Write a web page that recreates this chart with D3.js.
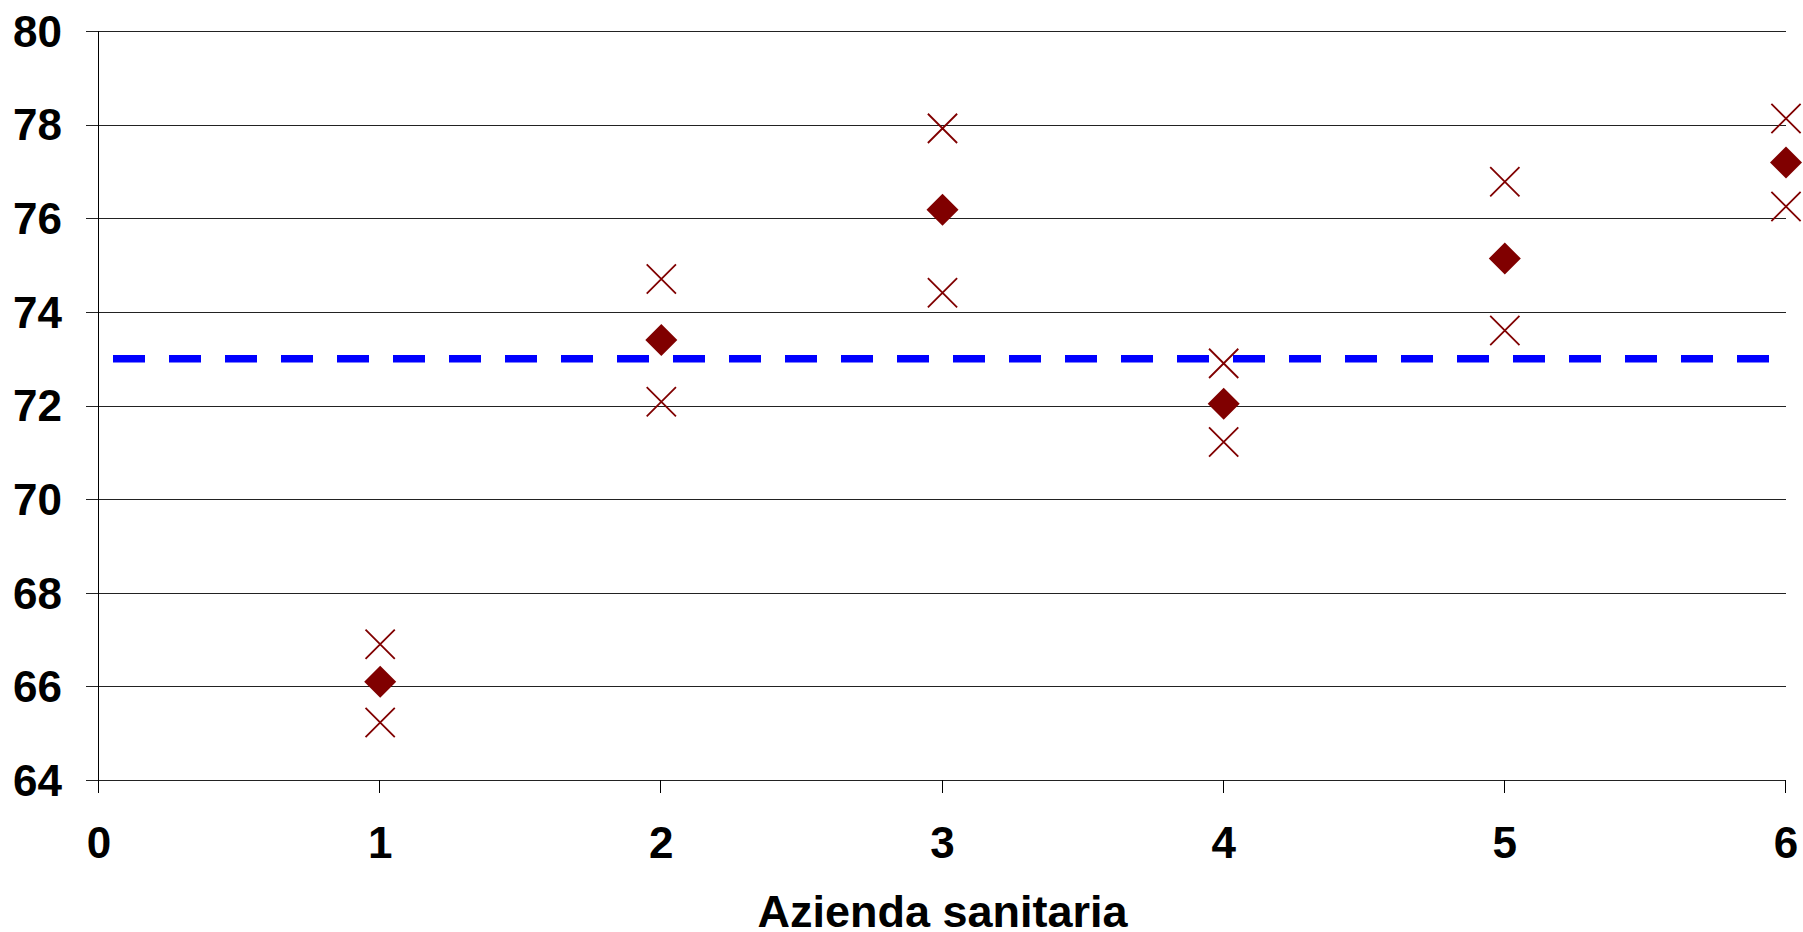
<!DOCTYPE html>
<html>
<head>
<meta charset="utf-8">
<script src="https://cdn.jsdelivr.net/npm/d3@7"></script>
<style>
  html, body { margin: 0; padding: 0; background: #fff; }
  svg text { font-family: "Liberation Sans", Arial, sans-serif; font-weight: bold; fill: #000; }
</style>
</head>
<body>
<div id="chart"></div>
<script>
// data
var aziende = [1, 2, 3, 4, 5, 6];
var mean = [66.10, 73.40, 76.18, 72.04, 75.14, 77.19];
var upper = [66.90, 74.70, 77.92, 72.90, 76.78, 78.13];
var lower = [65.23, 72.08, 74.41, 71.22, 73.60, 76.25];
var reference = 73.0;
var xTicks = [0, 1, 2, 3, 4, 5, 6];
var yTicks = [64, 66, 68, 70, 72, 74, 76, 78, 80];
var xTitle = 'Azienda sanitaria';

var width = 1803;
var height = 932;
var margin = { top: 31, right: 17, bottom: 152, left: 99 };
var red = '#800000';

var svg = d3.select('#chart').append('svg')
    .attr('width', width)
    .attr('height', height);

var x = d3.scaleLinear()
    .domain([0, 6])
    .range([margin.left, width - margin.right]);
var y = d3.scaleLinear()
    .domain([64, 80])
    .range([height - margin.bottom, margin.top]);

// horizontal gridlines + ticks on the left
svg.append('g')
    .selectAll('line')
    .data(yTicks)
    .join('line')
    .attr('x1', x(0) - 13)
    .attr('x2', x(6))
    .attr('y1', function (d) { return Math.round(y(d)) + 0.5; })
    .attr('y2', function (d) { return Math.round(y(d)) + 0.5; })
    .style('stroke', '#222')
    .style('stroke-width', 1);

// y axis line
svg.append('line')
    .attr('x1', Math.round(x(0)) - 0.5)
    .attr('x2', Math.round(x(0)) - 0.5)
    .attr('y1', y(80))
    .attr('y2', y(64) + 13)
    .style('stroke', '#000')
    .style('stroke-width', 1);

// x ticks below the axis
svg.append('g')
    .selectAll('line')
    .data(xTicks.slice(1))
    .join('line')
    .attr('x1', function (d) { return Math.round(x(d)) - 0.5; })
    .attr('x2', function (d) { return Math.round(x(d)) - 0.5; })
    .attr('y1', y(64))
    .attr('y2', y(64) + 13)
    .style('stroke', '#000')
    .style('stroke-width', 1);

// y tick labels
svg.append('g')
    .selectAll('text')
    .data(yTicks)
    .join('text')
    .attr('x', 62)
    .attr('y', function (d) { return y(d); })
    .attr('dy', '0.36em')
    .attr('text-anchor', 'end')
    .style('font-size', '44px')
    .text(function (d) { return d; });

// x tick labels
svg.append('g')
    .selectAll('text')
    .data(xTicks)
    .join('text')
    .attr('x', function (d) { return x(d); })
    .attr('y', 858)
    .attr('text-anchor', 'middle')
    .style('font-size', '44px')
    .text(function (d) { return d; });

// axis title (sits right on the bottom edge, as in the original)
svg.append('text')
    .attr('x', (x(0) + x(6)) / 2)
    .attr('y', 927)
    .attr('text-anchor', 'middle')
    .style('font-size', '45px')
    .text(xTitle);

// reference line (dashed blue)
svg.append('line')
    .attr('x1', x(0))
    .attr('x2', x(6))
    .attr('y1', y(reference))
    .attr('y2', y(reference))
    .style('stroke', '#0000ff')
    .style('stroke-width', 7.5)
    .style('stroke-dasharray', '32,24')
    .style('stroke-dashoffset', 42);

// upper + lower limits as crosses
var cross = d3.symbol().type(d3.symbolX).size(560);
var limits = aziende.map(function (d, i) { return [d, upper[i]]; })
    .concat(aziende.map(function (d, i) { return [d, lower[i]]; }));

svg.append('g')
    .selectAll('path')
    .data(limits)
    .join('path')
    .attr('d', cross)
    .attr('transform', function (d) {
        return 'translate(' + x(d[0]) + ',' + y(d[1]) + ')';
    })
    .style('fill', 'none')
    .style('stroke', red)
    .style('stroke-width', 1.8);

// means as diamonds
svg.append('g')
    .selectAll('path')
    .data(aziende)
    .join('path')
    .attr('d', 'M0,-16L16,0L0,16L-16,0Z')
    .attr('transform', function (d, i) {
        return 'translate(' + x(d) + ',' + y(mean[i]) + ')';
    })
    .style('fill', red);
</script>
</body>
</html>
